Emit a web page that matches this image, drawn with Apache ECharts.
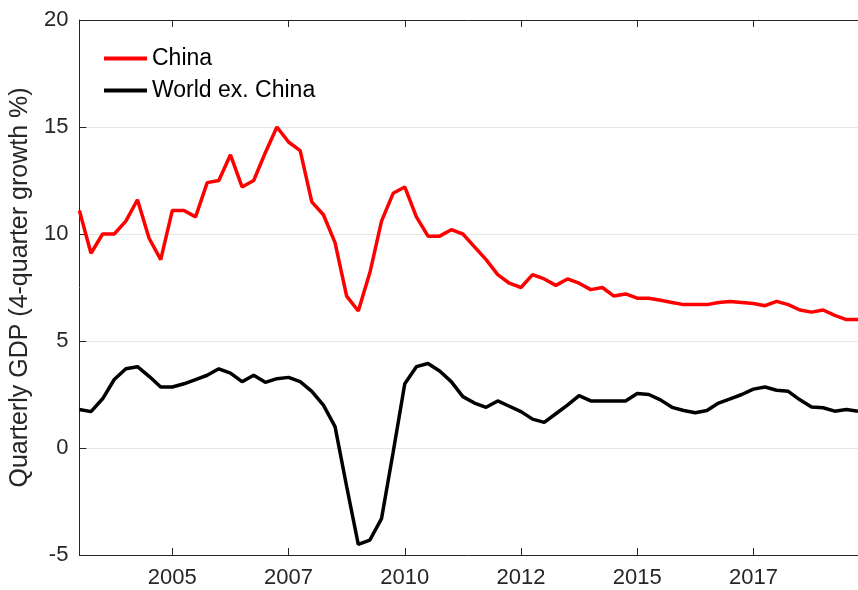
<!DOCTYPE html>
<html>
<head>
<meta charset="utf-8">
<script src="https://cdn.jsdelivr.net/npm/echarts@6/dist/echarts.min.js"></script>
<style>
  html, body { margin: 0; padding: 0; background: #fff; }
  #chart { width: 858px; height: 590px; }
</style>
</head>
<body>
<div id="chart"></div>
<script>
// quarterly, starting 2003 Q1
const startYear = 2003;
const china = [
  11.1, 9.1, 10.0, 10.0, 10.6, 11.6, 9.8, 8.8,
  11.1, 11.1, 10.8, 12.4, 12.5, 13.7, 12.2, 12.5,
  13.8, 15.0, 14.3, 13.9, 11.5, 10.9, 9.6, 7.1,
  6.4, 8.2, 10.6, 11.9, 12.2, 10.8, 9.9, 9.9,
  10.2, 10.0, 9.4, 8.8, 8.1, 7.7, 7.5, 8.1,
  7.9, 7.6, 7.9, 7.7, 7.4, 7.5, 7.1, 7.2,
  7.0, 7.0, 6.9, 6.8, 6.7, 6.7, 6.7, 6.8,
  6.85, 6.8, 6.75, 6.65, 6.85, 6.7, 6.45, 6.35,
  6.45, 6.2, 6.0, 6.0
];
const worldExChina = [
  1.8, 1.7, 2.3, 3.2, 3.7, 3.8, 3.35, 2.85,
  2.85, 3.0, 3.2, 3.4, 3.7, 3.5, 3.1, 3.4,
  3.07, 3.24, 3.3, 3.1, 2.65, 2.0, 1.0, -1.8,
  -4.5, -4.3, -3.3, -0.2, 3.0, 3.8, 3.95, 3.6,
  3.1, 2.4, 2.1, 1.9, 2.2, 1.95, 1.7, 1.35,
  1.2, 1.6, 2.0, 2.45, 2.2, 2.2, 2.2, 2.2,
  2.55, 2.5, 2.25, 1.9, 1.75, 1.65, 1.75, 2.1,
  2.3, 2.5, 2.75, 2.85, 2.7, 2.65, 2.25, 1.92,
  1.88, 1.72, 1.8, 1.72
];
const xTicks = [2005, 2007.5, 2010, 2012.5, 2015, 2017.5];
const yTicks = [-5, 0, 5, 10, 15, 20];

const toPairs = arr => arr.map((v, i) => [startYear + i / 4, v]);

const axisColor = '#262626';
const fontFamily = 'Liberation Sans, Arial, sans-serif';

const chart = echarts.init(document.getElementById('chart'));
chart.setOption({
  animation: false,
  backgroundColor: '#fff',
  textStyle: { fontFamily: fontFamily },
  grid: { left: 79, right: 0, top: 20, bottom: 35 },
  legend: {
    orient: 'vertical',
    left: 104, top: 47, padding: 0,
    itemWidth: 43, itemHeight: 4, itemGap: 9,
    icon: 'rect',
    textStyle: { fontSize: 23, color: '#000', fontFamily: fontFamily },
    data: ['China', 'World ex. China']
  },
  xAxis: [
    {
      type: 'value',
      min: startYear,
      max: startYear + (china.length - 1) / 4,
      splitLine: { show: false },
      axisLine: { onZero: false, lineStyle: { color: axisColor } },
      axisTick: { inside: true, length: 7, customValues: xTicks, lineStyle: { color: axisColor } },
      axisLabel: {
        customValues: xTicks, fontSize: 22, color: axisColor, margin: 12,
        formatter: v => String(Math.floor(v))
      }
    },
    {
      type: 'value',
      position: 'top',
      min: startYear,
      max: startYear + (china.length - 1) / 4,
      splitLine: { show: false },
      axisLine: { onZero: false, lineStyle: { color: axisColor } },
      axisTick: { inside: true, length: 7, customValues: xTicks, lineStyle: { color: axisColor } },
      axisLabel: { show: false }
    }
  ],
  yAxis: {
    type: 'value',
    min: yTicks[0], max: yTicks[yTicks.length - 1], interval: 5,
    name: 'Quarterly GDP (4-quarter growth %)',
    nameLocation: 'middle',
    nameGap: 45,
    nameTextStyle: { fontSize: 25, color: axisColor },
    axisLine: { show: true, onZero: false, lineStyle: { color: axisColor } },
    axisTick: { show: true, inside: true, length: 7, lineStyle: { color: axisColor } },
    axisLabel: { fontSize: 22, color: axisColor, margin: 11 },
    splitLine: { show: true, lineStyle: { color: '#e6e6e6', width: 1 } }
  },
  series: [
    {
      name: 'China', type: 'line', data: toPairs(china),
      showSymbol: false, color: '#ff0000',
      lineStyle: { width: 3.5, color: '#ff0000' }
    },
    {
      name: 'World ex. China', type: 'line', data: toPairs(worldExChina),
      showSymbol: false, color: '#000000',
      lineStyle: { width: 3.5, color: '#000000' }
    }
  ]
});
</script>
</body>
</html>
